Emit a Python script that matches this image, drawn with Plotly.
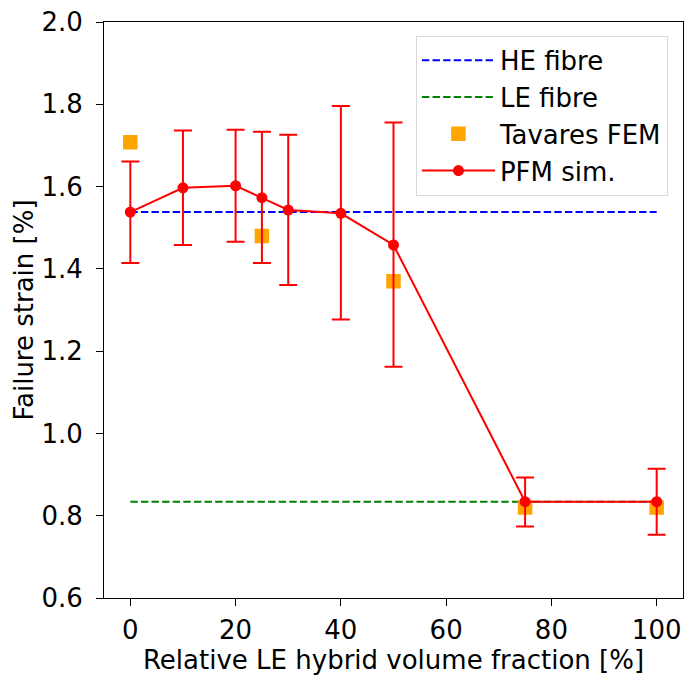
import plotly.graph_objects as go

# Data
x_fibre = [0, 100]
he_fibre = [1.538, 1.538]
le_fibre = [0.834, 0.834]

tav_x = [0, 25, 50, 75, 100]
tav_y = [1.708, 1.480, 1.370, 0.820, 0.820]

pfm_x = [0, 10, 20, 25, 30, 40, 50, 75, 100]
pfm_y = [1.538, 1.597, 1.602, 1.573, 1.543, 1.535, 1.458, 0.834, 0.834]
pfm_hi = [1.661, 1.736, 1.738, 1.733, 1.726, 1.796, 1.756, 0.893, 0.914]
pfm_lo = [1.414, 1.458, 1.466, 1.414, 1.361, 1.277, 1.162, 0.774, 0.754]

err_plus = [h - v for h, v in zip(pfm_hi, pfm_y)]
err_minus = [v - l for v, l in zip(pfm_y, pfm_lo)]

font = "DejaVu Sans"
fs = 26

fig = go.Figure()
fig.add_trace(go.Scatter(x=x_fibre, y=he_fibre, mode="lines", name="HE fibre",
                         line=dict(color="blue", width=2, dash="7.4px,3.2px")))
fig.add_trace(go.Scatter(x=x_fibre, y=le_fibre, mode="lines", name="LE fibre",
                         line=dict(color="green", width=2, dash="7.4px,3.2px")))
fig.add_trace(go.Scatter(x=tav_x, y=tav_y, mode="markers", name="Tavares FEM",
                         marker=dict(color="orange", symbol="square", size=13,
                                     line=dict(color="orange", width=1.5))))
fig.add_trace(go.Scatter(x=pfm_x, y=pfm_y, mode="lines+markers", name="PFM sim.",
                         line=dict(color="red", width=2),
                         marker=dict(color="red", size=11),
                         error_y=dict(type="data", symmetric=False, array=err_plus,
                                      arrayminus=err_minus, color="red",
                                      thickness=2, width=9)))

axis_common = dict(showline=True, linecolor="black", linewidth=1, mirror=True,
                   ticks="outside", ticklen=7, tickwidth=1, tickcolor="black",
                   showgrid=False, zeroline=False,
                   tickfont=dict(family=font, size=fs, color="black"))

fig.update_xaxes(range=[-5, 105], tickvals=[0, 20, 40, 60, 80, 100],
                 ticklabelstandoff=2,
                 title=dict(text="Relative LE hybrid volume fraction [%]",
                            font=dict(family=font, size=fs, color="black"),
                            standoff=4),
                 **axis_common)
fig.update_yaxes(range=[0.6, 2.0], tickvals=[0.6, 0.8, 1.0, 1.2, 1.4, 1.6, 1.8, 2.0],
                 tickformat=".1f", ticklabelstandoff=8,
                 title=dict(text="Failure strain [%]",
                            font=dict(family=font, size=fs, color="black"),
                            standoff=0),
                 **axis_common)

fig.update_layout(
    width=684, height=675,
    margin=dict(l=104, r=1, t=22, b=77),
    paper_bgcolor="white", plot_bgcolor="white",
    font=dict(family=font, size=fs, color="black"),
    showlegend=True,
    legend=dict(x=0.974, y=0.976, xanchor="right", yanchor="top",
                bgcolor="white", bordercolor="#d9d9d9", borderwidth=1,
                font=dict(family=font, size=fs, color="black"),
                itemwidth=73, tracegroupgap=0),
)

fig.write_html("out.html", config={"displayModeBar": False},
               post_script="document.body.style.margin='0';")
